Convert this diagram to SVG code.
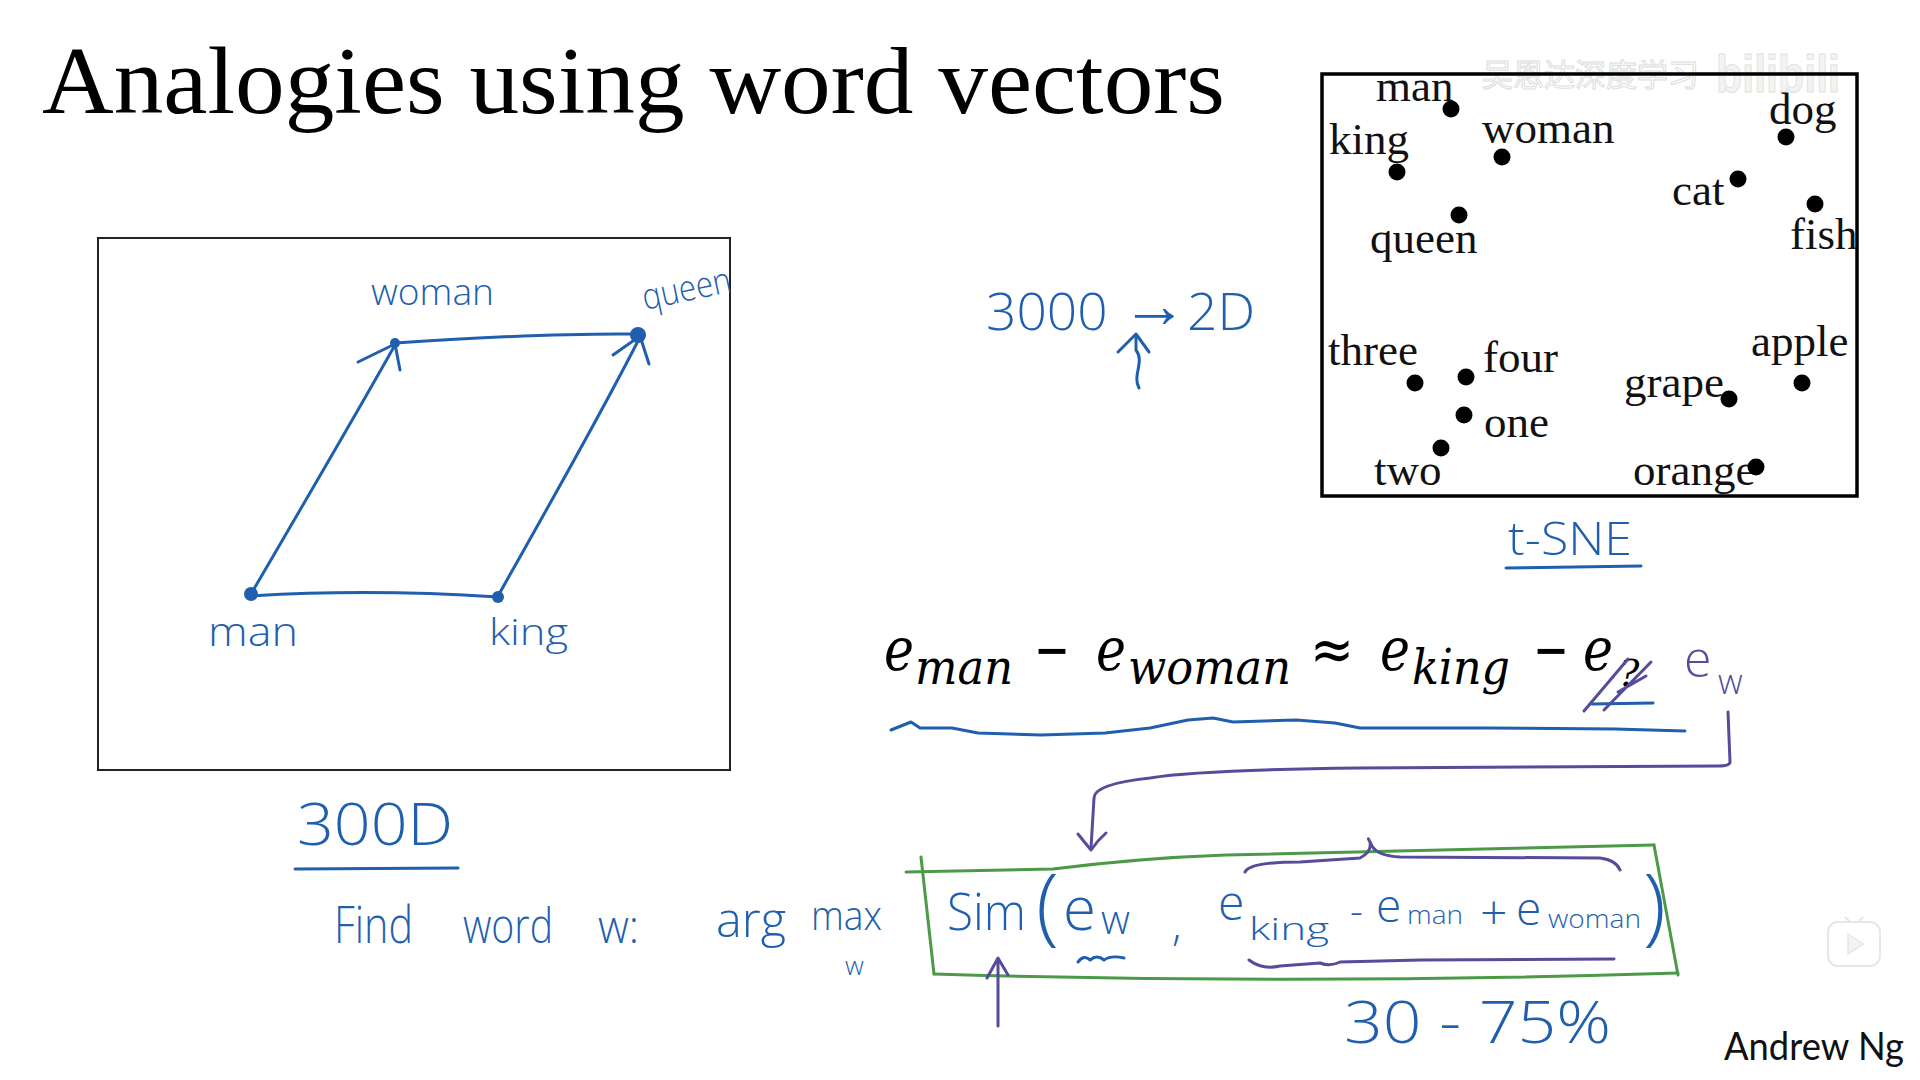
<svg xmlns="http://www.w3.org/2000/svg" width="1920" height="1080" viewBox="0 0 1920 1080">
<style>
.title{font-family:"Liberation Serif",serif;font-size:96px;fill:#000}
.tw{font-family:"Liberation Serif",serif;font-size:45px;fill:#111}
.dot{fill:#000}
.hb{font-family:"Open Sans","Liberation Sans",sans-serif;font-weight:300;fill:#1f5fae}
.hp{font-family:"Open Sans","Liberation Sans",sans-serif;font-weight:300;fill:#574b9c}
.blue{fill:none;stroke:#1f5fae;stroke-width:3;stroke-linecap:round;stroke-linejoin:round}
.purple{fill:none;stroke:#574b9c;stroke-width:3;stroke-linecap:round;stroke-linejoin:round}
.green{fill:none;stroke:#4c9a48;stroke-width:3;stroke-linecap:round;stroke-linejoin:round}
.eq{font-family:"DejaVu Serif","Liberation Serif",serif;font-style:italic;fill:#000}
.op{font-family:"DejaVu Sans","Liberation Sans",sans-serif;fill:#000}
</style>
<rect width="1920" height="1080" fill="#fff"/>

<g id="title"><text class="title" x="42" y="113" textLength="1183" lengthAdjust="spacingAndGlyphs">Analogies using word vectors</text></g>

<g id="watermark" opacity="0.9">
<text x="1482" y="86" font-family="Noto Sans CJK SC,sans-serif" font-size="31" fill="#fff" stroke="#d9d9d9" stroke-width="1">吴恩达深度学习</text>
<text x="1716" y="92" font-family="Liberation Sans,sans-serif" font-weight="bold" font-size="52" fill="#f2f2f2" stroke="#dedede" stroke-width="1" textLength="124" lengthAdjust="spacingAndGlyphs">bilibili</text>
</g>

<g id="tsne-plot">
<rect x="1322" y="74" width="535" height="422" fill="none" stroke="#000" stroke-width="3.5"/>
<g id="w-man"><text class="tw" x="1376" y="101">man</text><circle class="dot" cx="1451" cy="109" r="8.5"/></g>
<g id="w-king"><text class="tw" x="1329" y="154">king</text><circle class="dot" cx="1397" cy="172" r="8.5"/></g>
<g id="w-woman"><text class="tw" x="1482" y="143">woman</text><circle class="dot" cx="1502" cy="157" r="8.5"/></g>
<g id="w-queen"><text class="tw" x="1370" y="253">queen</text><circle class="dot" cx="1459" cy="215" r="8.5"/></g>
<g id="w-dog"><text class="tw" x="1769" y="124">dog</text><circle class="dot" cx="1786" cy="137" r="8.5"/></g>
<g id="w-cat"><text class="tw" x="1672" y="205">cat</text><circle class="dot" cx="1738" cy="179" r="8.5"/></g>
<g id="w-fish"><text class="tw" x="1790" y="249">fish</text><circle class="dot" cx="1815" cy="204" r="8.5"/></g>
<g id="w-three"><text class="tw" x="1328" y="365">three</text><circle class="dot" cx="1415" cy="383" r="8.5"/></g>
<g id="w-four"><text class="tw" x="1483" y="372">four</text><circle class="dot" cx="1466" cy="377" r="8.5"/></g>
<g id="w-one"><text class="tw" x="1484" y="437">one</text><circle class="dot" cx="1464" cy="415" r="8.5"/></g>
<g id="w-two"><text class="tw" x="1374" y="485">two</text><circle class="dot" cx="1441" cy="448" r="8.5"/></g>
<g id="w-apple"><text class="tw" x="1751" y="356">apple</text><circle class="dot" cx="1802" cy="383" r="8.5"/></g>
<g id="w-grape"><text class="tw" x="1624" y="397">grape</text><circle class="dot" cx="1729" cy="399" r="8.5"/></g>
<g id="w-orange"><text class="tw" x="1633" y="485">orange</text><circle class="dot" cx="1756" cy="467" r="8.5"/></g>
</g>

<g id="analogy-frame"><rect x="98" y="238" width="632" height="532" fill="none" stroke="#222" stroke-width="2"/></g>

<g id="node-man"><circle cx="251" cy="594" r="7" fill="#1f5fae"/><text class="hb" x="208" y="646" font-size="40" textLength="90" lengthAdjust="spacingAndGlyphs">man</text></g>
<g id="node-king"><circle cx="498" cy="597" r="6" fill="#1f5fae"/><text class="hb" x="489" y="645" font-size="36" textLength="79" lengthAdjust="spacingAndGlyphs">king</text></g>
<g id="node-woman"><circle cx="395" cy="343" r="5" fill="#1f5fae"/><text class="hb" x="371" y="305" font-size="36" textLength="123" lengthAdjust="spacingAndGlyphs">woman</text></g>
<g id="node-queen"><circle cx="638" cy="335" r="8" fill="#1f5fae"/><text class="hb" x="645" y="310" font-size="36" transform="rotate(-12 645 310)" textLength="90" lengthAdjust="spacingAndGlyphs">queen</text></g>

<g id="label-300D"><text class="hb" x="297" y="845" font-size="58" textLength="156" lengthAdjust="spacingAndGlyphs">300D</text></g>
<g id="label-reduce"><text class="hb" x="986" y="330" font-size="52" textLength="269" lengthAdjust="spacingAndGlyphs">3000 <tspan font-size="64" dy="-3">→</tspan><tspan dy="3">2D</tspan></text></g>
<g id="label-tsne"><text class="hb" x="1508" y="555" font-size="46" textLength="124" lengthAdjust="spacingAndGlyphs">t-SNE</text></g>

<g id="equation">
<text class="eq" x="884" y="670" font-size="60" textLength="30" lengthAdjust="spacingAndGlyphs">e</text>
<text class="eq" x="915" y="684" font-size="48" textLength="98" lengthAdjust="spacingAndGlyphs">man</text>
<text class="op" x="1034" y="670" font-size="60" textLength="36" lengthAdjust="spacingAndGlyphs">−</text>
<text class="eq" x="1096" y="670" font-size="60" textLength="30" lengthAdjust="spacingAndGlyphs">e</text>
<text class="eq" x="1128" y="684" font-size="48" textLength="163" lengthAdjust="spacingAndGlyphs">woman</text>
<text class="op" x="1310" y="670" font-size="60" textLength="44" lengthAdjust="spacingAndGlyphs">≈</text>
<text class="eq" x="1380" y="670" font-size="60" textLength="30" lengthAdjust="spacingAndGlyphs">e</text>
<text class="eq" x="1412" y="684" font-size="48" textLength="98" lengthAdjust="spacingAndGlyphs">king</text>
<text class="op" x="1533" y="670" font-size="60" textLength="36" lengthAdjust="spacingAndGlyphs">−</text>
<text class="eq" x="1583" y="670" font-size="60" textLength="30" lengthAdjust="spacingAndGlyphs">e</text>
<text class="eq" x="1619" y="686" font-size="38">?</text>
<text class="hp" x="1684" y="677" font-size="50">e</text>
<text class="hp" x="1718" y="694" font-size="34">w</text>
</g>

<g id="find-line">
<text class="hb" x="334" y="943" font-size="52" textLength="79" lengthAdjust="spacingAndGlyphs">Find</text>
<text class="hb" x="463" y="943" font-size="48" textLength="90" lengthAdjust="spacingAndGlyphs">word</text>
<text class="hb" x="598" y="943" font-size="46" textLength="41" lengthAdjust="spacingAndGlyphs">w:</text>
<text class="hb" x="716" y="937" font-size="48" textLength="70" lengthAdjust="spacingAndGlyphs">arg</text>
<text class="hb" x="811" y="930" font-size="40" textLength="71" lengthAdjust="spacingAndGlyphs">max</text>
<text class="hb" x="845" y="975" font-size="26">w</text>
</g>

<g id="sim-box">
<path class="green" d="M906,872 L1053,869 Q1140,858 1226,855 L1654,845"/>
<path class="green" d="M921,857 L934,974"/>
<path class="green" d="M1654,845 L1678,975"/>
<path class="green" d="M934,974 Q1300,985 1678,973"/>
<text class="hb" x="947" y="930" font-size="52" textLength="79" lengthAdjust="spacingAndGlyphs">Sim</text>
<text class="hb" x="1036" y="935" font-size="84" font-weight="200">(</text>
<text class="hb" x="1063" y="930" font-size="60">e</text>
<text class="hb" x="1101" y="934" font-size="40">w</text>
<text class="hb" x="1172" y="940" font-size="44">,</text>
<text class="hb" x="1218" y="920" font-size="48">e</text>
<text class="hb" x="1249" y="940" font-size="32" textLength="80" lengthAdjust="spacingAndGlyphs">king</text>
<text class="hb" x="1350" y="925" font-size="40">-</text>
<text class="hb" x="1376" y="922" font-size="46">e</text>
<text class="hb" x="1407" y="924" font-size="26" textLength="56" lengthAdjust="spacingAndGlyphs">man</text>
<text class="hb" x="1480" y="930" font-size="48">+</text>
<text class="hb" x="1516" y="925" font-size="46">e</text>
<text class="hb" x="1548" y="928" font-size="26" textLength="93" lengthAdjust="spacingAndGlyphs">woman</text>
<text class="hb" x="1643" y="935" font-size="84" font-weight="200">)</text>
</g>

<g id="label-accuracy"><text class="hb" x="1344" y="1043" font-size="58" textLength="267" lengthAdjust="spacingAndGlyphs">30 - 75%</text></g>

<g id="author"><text x="1724" y="1060" font-family="Lato,'Liberation Sans',sans-serif" font-size="38" fill="#111" textLength="180" lengthAdjust="spacingAndGlyphs">Andrew Ng</text></g>

<g id="player-icon" opacity="0.35">
<rect x="1828" y="922" width="52" height="44" rx="10" fill="#fff" stroke="#bbb" stroke-width="2"/>
<path d="M1845,917 L1850,922 M1863,917 L1858,922" stroke="#bbb" stroke-width="2"/>
<path d="M1848,934 L1863,944 L1848,954 Z" fill="#ddd" stroke="#bbb" stroke-width="1.5"/>
</g>

<g id="connectors">
<path class="blue" d="M251,596 C330,591 420,592 498,597"/>
<path class="blue" d="M395,343 C470,338 560,333 638,334"/>
<path class="blue" d="M251,594 C300,510 350,425 395,345"/>
<path class="blue" d="M358,362 L395,344 L400,370"/>
<path class="blue" d="M498,596 C545,512 598,420 640,337"/>
<path class="blue" d="M613,355 L640,336 L649,364"/>
<path class="blue" d="M1139,388 C1132,375 1145,362 1136,350 L1136,335"/>
<path class="blue" d="M1118,352 L1136,334 L1149,352"/>
<path class="blue" d="M295,869 L458,868"/>
<path class="blue" d="M1506,568 L1641,566"/>
<path class="blue" d="M891,730 L911,722 L920,728 L952,728 L978,733 L1041,735 L1105,733 L1150,728 L1188,720 L1213,718 L1233,722 L1296,720 L1335,723 L1360,728 L1488,728 L1615,729 L1685,731"/>
<path class="blue" d="M1592,704 L1653,703"/>
<path class="blue" d="M1078,962 Q1084,954 1090,960 Q1097,954 1104,960 Q1111,955 1124,958"/>
<path class="purple" d="M1584,711 L1628,659 M1604,710 L1651,662 M1618,692 L1646,676"/>
<path class="purple" d="M1728,712 L1730,762 Q1730,766 1718,766 L1360,768 Q1200,770 1150,778 Q1094,784 1094,798 L1091,848"/>
<path class="purple" d="M1078,834 Q1086,844 1091,850 Q1097,841 1106,833"/>
<path class="purple" d="M998,1026 L998,960 M987,978 L998,958 L1008,975"/>
<path class="purple" d="M1245,872 Q1250,862 1300,862 L1360,858 Q1372,852 1370,842 Q1366,834 1372,846 Q1378,856 1400,857 L1600,858 Q1616,860 1620,870"/>
<path class="purple" d="M1249,960 Q1262,970 1280,966 L1320,963 Q1330,967 1340,962 L1420,960 L1614,959"/>
</g>
</svg>
